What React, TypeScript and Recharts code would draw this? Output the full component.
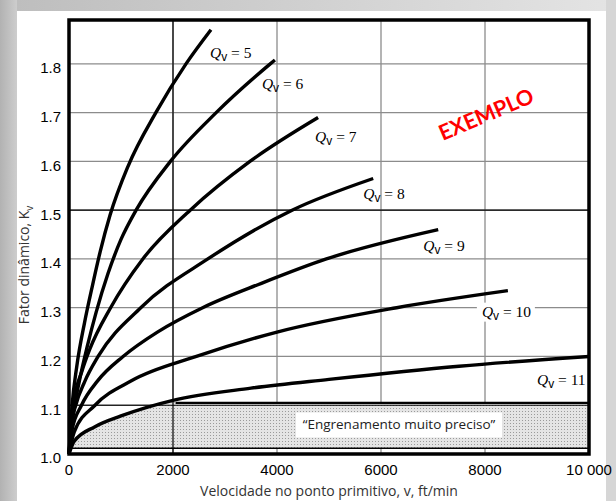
import {
  ComposedChart,
  Line,
  Area,
  XAxis,
  YAxis,
  CartesianGrid,
  ReferenceLine,
  ReferenceArea,
} from "recharts";

// pitch-line velocity (ft/min) and dynamic factor Kv
const v5 = [0, 60, 150, 300, 450, 600, 790, 1135, 1670, 2250, 2730];
const k5 = [1.0, 1.1, 1.18, 1.27, 1.345, 1.415, 1.49, 1.59, 1.7, 1.8, 1.87];

const v6 = [0, 80, 200, 350, 520, 750, 1000, 1290, 1950, 2830, 3870, 3960];
const k6 = [1.0, 1.08, 1.15, 1.22, 1.29, 1.37, 1.44, 1.5, 1.6, 1.7, 1.8, 1.808];

const v7 = [0, 100, 250, 400, 800, 1420, 2330, 3480, 4790];
const k7 = [1.0, 1.11, 1.17, 1.215, 1.3, 1.4, 1.5, 1.6, 1.69];

const v8 = [0, 50, 130, 300, 560, 1380, 2670, 4290, 5850];
const k8 = [1.0, 1.062, 1.1, 1.148, 1.2, 1.3, 1.4, 1.5, 1.565];

const v9 = [0, 60, 240, 550, 1040, 1700, 2570, 3700, 4950, 7100];
const k9 = [1.0, 1.05, 1.1, 1.15, 1.2, 1.25, 1.3, 1.35, 1.4, 1.46];

const v10 = [0, 100, 500, 1200, 2450, 4000, 6300, 8440];
const k10 = [1.0, 1.045, 1.1, 1.15, 1.2, 1.25, 1.3, 1.335];

const v11 = [0, 100, 500, 1000, 2000, 3500, 5000, 7500, 10000];
const k11 = [1.0, 1.026, 1.056, 1.078, 1.11, 1.135, 1.153, 1.18, 1.2];

// shaded "very accurate gearing" zone
const shadeV = [0, 100, 500, 1000, 2000, 10000];
const shadeK = [1.015, 1.026, 1.056, 1.078, 1.106, 1.106];
const shadeBase = 1.012;
const shadeTop = 1.105;

const xTicks = [0, 2000, 4000, 6000, 8000, 10000];
const xTickLabels = ["0", "2000", "4000", "6000", "8000", "10 000"];
const yTicks = [1.0, 1.1, 1.2, 1.3, 1.4, 1.5, 1.6, 1.7, 1.8];
const yTickLabels = ["1.0", "1.1", "1.2", "1.3", "1.4", "1.5", "1.6", "1.7", "1.8"];

const toRows = (vs: number[], ks: number[]) => vs.map((v, i) => ({ v, k: ks[i] }));

const curves = [
  { q: "5", data: toRows(v5, k5), dx: -1, dy: 28 },
  { q: "6", data: toRows(v6, k6), dx: -13, dy: 29 },
  { q: "7", data: toRows(v7, k7), dx: -3, dy: 24 },
  { q: "8", data: toRows(v8, k8), dx: -10, dy: 21 },
  { q: "9", data: toRows(v9, k9), dx: -15, dy: 21 },
  { q: "10", data: toRows(v10, k10), dx: -26, dy: 26, box: true },
  { q: "11", data: toRows(v11, k11), dx: -52, dy: 29 },
];

const serif = "'Liberation Serif', 'Times New Roman', serif";
const sans = "'Liberation Sans', Arial, sans-serif";
const title = "'Open Sans', 'Liberation Sans', sans-serif";

function curveLabel(q: string, last: number, dx: number, dy: number, box?: boolean) {
  return (props: any) => {
    if (props.index !== last) return null;
    const x = Number(props.x) + dx;
    const y = Number(props.y) + dy;
    return (
      <g>
        {box && <rect x={x - 5} y={y - 14} width={q.length > 1 ? 58 : 50} height={19} fill="#fff" />}
        <text x={x} y={y} fontFamily={serif} fontSize={15.5} fill="#000">
          <tspan fontStyle="italic">Q</tspan>
          <tspan fontFamily={sans} fontSize={12} dy={3}>v</tspan>
          <tspan dy={-3}>{" = " + q}</tspan>
        </text>
      </g>
    );
  };
}

function YTitle(props: any) {
  const vb = props.viewBox || { x: 0, y: 20, width: 69, height: 434 };
  const cx = 29;
  const cy = vb.y + vb.height / 2 + 28;
  return (
    <text
      x={cx}
      y={cy}
      transform={`rotate(-90 ${cx} ${cy})`}
      textAnchor="middle"
      fontFamily={title}
      fontSize={14}
      fill="#333"
    >
      Fator dinâmico, K
      <tspan fontSize={10} dy={4}>v</tspan>
    </text>
  );
}

function ZoneLabel(props: any) {
  const vb = props.viewBox;
  if (!vb) return null;
  const cx = vb.x + vb.width / 2 + 18;
  const cy = vb.y + vb.height / 2 - 1;
  return (
    <g>
      <rect x={cx - 103} y={cy - 12} width={206} height={25} fill="#fff" />
      <text x={cx} y={cy + 5} textAnchor="middle" fontFamily={title} fontSize={13.5} fill="#222">
        “Engrenamento muito preciso”
      </text>
    </g>
  );
}

export default function App() {
  return (
    <div
      style={{
        position: "absolute",
        left: 0,
        top: 0,
        width: 616,
        height: 501,
        background: "#fff",
        overflow: "hidden",
      }}
    >
      <div style={{ position: "absolute", left: 0, top: 0, width: 616, height: 11, background: "linear-gradient(to right, #bdbdbd, #e4e4e4)" }} />
      <div style={{ position: "absolute", left: 0, top: 0, width: 17, height: 501, background: "linear-gradient(to right, #b2b2b2, #cdcdcd)" }} />
      <div style={{ position: "absolute", left: 606, top: 0, width: 10, height: 501, background: "#d6d6d6" }} />
      <div style={{ position: "absolute", left: 0, top: 0 }}>
        <ComposedChart width={616} height={501} margin={{ top: 20, right: 27, left: 0, bottom: 0 }}>
          <defs>
            <pattern id="dots" width="3" height="3" patternUnits="userSpaceOnUse">
              <rect width="3" height="3" fill="#e4e4e4" />
              <rect width="1" height="1" fill="#9a9a9a" />
            </pattern>
          </defs>
          <XAxis
            type="number"
            dataKey="v"
            domain={[0, 10000]}
            ticks={xTicks}
            tickFormatter={(t: number) => xTickLabels[xTicks.indexOf(t)]}
            tickLine={false}
            axisLine={false}
            tickSize={0}
            tickMargin={10}
            height={47}
            tick={{ fontFamily: sans, fontSize: 15, fill: "#000" }}
            label={{
              value: "Velocidade no ponto primitivo, v, ft/min",
              position: "insideBottom",
              offset: 5,
              style: { fontFamily: title, fontSize: 14, fill: "#333" },
            }}
          />
          <YAxis
            type="number"
            domain={[1, 1.89]}
            ticks={yTicks}
            tickFormatter={(t: number) => yTickLabels[yTicks.indexOf(t)]}
            tickLine={false}
            axisLine={false}
            tickSize={0}
            tickMargin={8}
            width={69}
            allowDataOverflow
            tick={{ fontFamily: sans, fontSize: 15, fill: "#000", dy: 4 }}
            label={<YTitle />}
          />
          <Area
            data={toRows(shadeV, shadeK)}
            dataKey="k"
            type="monotone"
            baseValue={shadeBase}
            fill="url(#dots)"
            fillOpacity={1}
            stroke="none"
            isAnimationActive={false}
          />
          <CartesianGrid stroke="#8c8c8c" strokeWidth={1.3} />
          <ReferenceLine y={1.5} stroke="#000" strokeWidth={1.2} />
          <ReferenceLine y={1.1} stroke="#000" strokeWidth={1.2} />
          <ReferenceLine x={2000} stroke="#000" strokeWidth={1.2} />
          <ReferenceLine y={shadeBase} stroke="#000" strokeWidth={1.5} />
          <ReferenceLine
            segment={[
              { x: 2050, y: shadeTop },
              { x: 10000, y: shadeTop },
            ]}
            stroke="#000"
            strokeWidth={2.2}
          />
          <ReferenceArea
            x1={2000}
            x2={10000}
            y1={shadeBase}
            y2={shadeTop}
            fill="none"
            stroke="none"
            label={<ZoneLabel />}
          />
          {curves.map((c) => (
            <Line
              key={c.q}
              data={c.data}
              dataKey="k"
              type="monotone"
              stroke="#000"
              strokeWidth={3.4}
              dot={false}
              activeDot={false}
              isAnimationActive={false}
              label={curveLabel(c.q, c.data.length - 1, c.dx, c.dy, c.box)}
            />
          ))}
          <ReferenceArea x1={0} x2={10000} y1={1} y2={1.89} fill="none" stroke="#000" strokeWidth={3.5} />
        </ComposedChart>
      </div>
      <div
        style={{
          position: "absolute",
          left: 426,
          top: 101,
          width: 120,
          textAlign: "center",
          fontFamily: "Lato, 'Liberation Sans', sans-serif",
          fontWeight: 700,
          fontSize: 21.5,
          lineHeight: "26px",
          color: "#ff0000",
          transform: "rotate(-23deg)",
        }}
      >
        EXEMPLO
      </div>
    </div>
  );
}
